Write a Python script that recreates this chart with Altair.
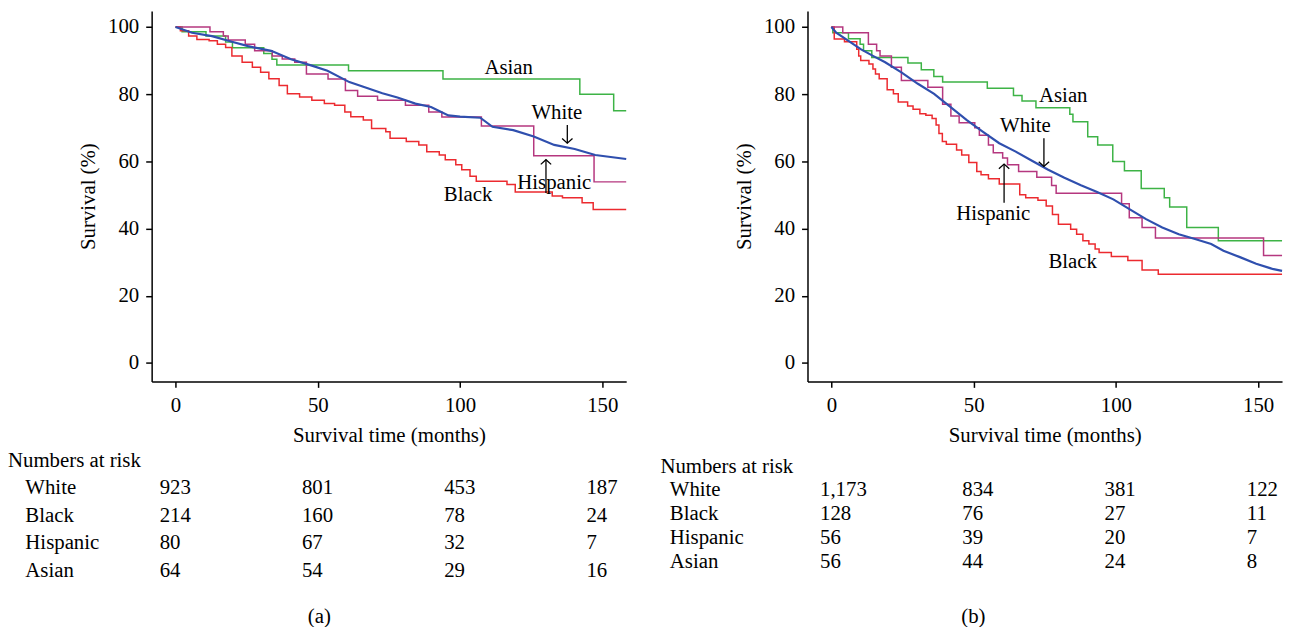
import altair as alt
import pandas as pd

FONT = "Liberation Serif"
FS = 21

GROUPS = ["White", "Black", "Hispanic", "Asian"]
COLORS = {"White": "#2f4fae", "Black": "#ec2a2f", "Hispanic": "#b5377f", "Asian": "#3db346"}

# ---------------- Panel (a) ----------------
a_white_t = [0, 5.8, 12.8, 19.8, 25.5, 33.6, 40.6, 47.9, 53.4, 61.1, 66.0, 72.7, 78.0, 84.3, 89.8, 95.9,
             100.0, 107.1, 111.4, 118.7, 125.9, 133.1, 140.3, 147.5, 158.4]
a_white_s = [100, 98.3, 97.3, 95.6, 94.3, 92.9, 90.4, 88.5, 87.0, 83.6, 82.2, 80.3, 79.0, 77.2, 76.2, 73.7,
             73.3, 73.0, 70.3, 69.3, 67.4, 64.9, 63.7, 61.9, 60.7]
a_black_t = [0, 1.7, 4.6, 7.5, 11.8, 14.7, 17.6, 19.8, 23.4, 27.0, 29.9, 32.8, 36.4, 39.3, 43.6, 47.9, 52.3,
             55.9, 59.5, 61.6, 66.0, 68.9, 73.9, 75.4, 81.1, 85.5, 88.3, 92.7, 94.8, 98.5, 100.6, 103.5,
             105.7, 116.5, 119.4, 132.4, 136.0, 142.9, 146.8, 158.4]
a_black_s = [100, 98.9, 97.3, 96.3, 95.9, 94.9, 93.9, 91.4, 89.5, 88.0, 86.5, 84.6, 82.6, 80.1, 79.2, 78.2, 77.2,
             76.7, 74.7, 73.3, 72.3, 69.8, 68.8, 66.9, 65.9, 64.9, 62.9, 61.9, 60.5, 59.0, 57.5, 55.6,
             54.1, 53.1, 50.9, 49.7, 49.2, 47.7, 45.7, 45.7]
a_hisp_t = [0, 12.1, 16.8, 18.5, 24.5, 27.8, 34.0, 37.5, 41.9, 46.0, 53.6, 59.7, 64.0, 71.0, 80.8, 89.0,
            93.6, 107.5, 125.9, 147.1, 158.4]
a_hisp_s = [100, 98.6, 97.3, 96.1, 94.9, 92.9, 91.4, 90.5, 89.5, 86.0, 84.5, 81.1, 79.4, 78.2, 76.7, 74.7,
            73.2, 70.5, 61.7, 53.9, 53.9]
a_asian_t = [0, 2.3, 10.7, 17.6, 20.0, 31.0, 33.9, 35.6, 60.8, 94.0, 142.1, 154.0, 158.4]
a_asian_s = [100, 98.6, 97.3, 95.5, 93.8, 92.1, 90.4, 88.7, 87.0, 84.5, 80.0, 75.1, 75.1]

a_lab_text = ["Asian", "White", "Hispanic", "Black"]
a_lab_t = [117.1, 134.0, 133.1, 102.8]
a_lab_s = [87.8, 74.5, 53.6, 50.0]
a_arrow_dir = ["down", "up"]
a_arrow_t = [137.7, 130.2]
a_arrow_tail = [70.8, 50.6]
a_arrow_head = [65.4, 60.5]

a_risk_times = [0, 50, 100, 150]
a_risk_white = [923, 801, 453, 187]
a_risk_black = [214, 160, 78, 24]
a_risk_hisp = [80, 67, 32, 7]
a_risk_asian = [64, 54, 29, 16]

# ---------------- Panel (b) ----------------
b_white_t = [0, 1.7, 6.0, 10.3, 14.6, 18.9, 24.6, 30.4, 36.1, 41.8, 47.6, 53.3, 59.0, 64.8, 70.5, 76.2,
             81.9, 87.7, 93.4, 99.1, 104.9, 110.6, 116.3, 122.1, 127.8, 133.5, 137.8, 143.6, 149.3, 155.0, 158.4]
b_white_s = [100, 98.3, 95.9, 93.4, 91.4, 89.5, 86.5, 83.1, 80.1, 76.2, 72.3, 68.8, 65.4, 62.9, 60.2, 57.5,
             55.1, 52.9, 50.9, 48.7, 45.7, 42.8, 40.3, 38.3, 36.9, 35.4, 33.4, 31.5, 29.5, 28.0, 27.4]
b_black_t = [0, 1.0, 4.6, 8.9, 9.6, 10.3, 13.2, 14.6, 15.5, 16.8, 19.6, 21.8, 23.5, 26.8, 28.7, 31.1, 33.2,
             35.4, 36.8, 37.8, 39.0, 40.4, 44.0, 45.8, 48.3, 51.1, 52.6, 55.2, 59.0, 66.2, 68.3, 72.6, 75.5,
             77.7, 79.8, 84.1, 86.2, 88.4, 90.5, 92.7, 94.1, 98.4, 104.2, 109.2, 114.9, 158.4]
b_black_s = [100, 96.4, 95.6, 93.4, 91.4, 90.0, 89.0, 87.5, 86.0, 84.6, 81.3, 80.1, 77.7, 76.5, 75.5, 74.2, 73.7,
             72.8, 70.8, 68.3, 65.9, 65.1, 63.4, 61.9, 59.7, 57.0, 56.0, 54.8, 53.3, 50.1, 49.2, 48.4, 46.7,
             44.2, 41.3, 39.8, 38.3, 36.4, 35.4, 33.9, 32.9, 31.7, 30.5, 27.7, 26.4, 26.4]
b_hisp_t = [0, 4.0, 13.0, 15.9, 17.1, 21.1, 24.6, 33.9, 39.1, 42.0, 44.9, 50.4, 52.0, 55.2, 56.9, 60.2, 61.9,
            65.8, 72.2, 77.4, 79.0, 102.0, 104.7, 109.2, 113.9, 151.9, 158.4]
b_hisp_s = [100, 98.3, 94.9, 92.9, 91.4, 88.0, 84.1, 82.1, 77.0, 73.5, 71.5, 70.0, 67.8, 64.9, 62.6, 61.0, 59.0,
            57.0, 55.3, 52.8, 50.5, 47.4, 43.2, 40.3, 37.2, 32.0, 32.0]
b_asian_t = [0, 0.5, 6.0, 10.1, 11.3, 14.2, 26.9, 31.6, 36.0, 39.1, 54.8, 64.0, 67.0, 71.9, 83.8, 84.9, 90.1,
             93.6, 98.9, 103.0, 108.9, 117.0, 118.9, 124.9, 136.0, 158.4]
b_asian_s = [100, 98.3, 96.5, 94.9, 92.9, 90.9, 89.3, 87.3, 85.3, 83.6, 81.8, 79.6, 78.0, 76.0, 74.0, 71.8, 67.3,
             64.9, 60.0, 57.2, 51.9, 49.2, 46.4, 40.3, 36.4, 36.4]

b_lab_text = ["Asian", "White", "Hispanic", "Black"]
b_lab_t = [81.5, 68.2, 56.9, 84.8]
b_lab_s = [79.5, 70.4, 44.4, 29.9]
b_arrow_dir = ["down", "up"]
b_arrow_t = [74.7, 60.7]
b_arrow_tail = [66.9, 47.7]
b_arrow_head = [58.5, 59.2]

b_risk_times = [0, 50, 100, 150]
b_risk_white = [1173, 834, 381, 122]
b_risk_black = [128, 76, 27, 11]
b_risk_hisp = [56, 39, 20, 7]
b_risk_asian = [56, 44, 24, 8]

XDOM = [-8.4, 158.4]
YDOM = [-5.5, 104.8]
PLOT_W = 479
PLOT_H = 374
X_TICKS = [0, 50, 100, 150]
Y_TICKS = [0, 20, 40, 60, 80, 100]
HEADER = "Numbers at risk"
ROWS = [HEADER] + GROUPS

DOWN_HEAD = "M-1,-0.9L0,0L1,-0.9"
UP_HEAD = "M-1,0.9L0,0L1,0.9"


def make_panel(white, steps, labels, arrows, risk, caption, table_h, table_dx,
               label_x, header_x, vspace, cap_offset):
    xs = alt.Scale(domain=XDOM, nice=False, zero=False)
    ys = alt.Scale(domain=YDOM, nice=False, zero=False)
    X = alt.X("t:Q", scale=xs, axis=alt.Axis(values=X_TICKS, title="Survival time (months)"))
    Y = alt.Y("s:Q", scale=ys, axis=alt.Axis(values=Y_TICKS, title="Survival (%)"))
    cscale = alt.Scale(domain=GROUPS, range=[COLORS[g] for g in GROUPS])

    rows = []
    for g, (tt, ss) in steps.items():
        for t, s in zip(tt, ss):
            rows.append({"group": g, "t": t, "s": s})
    step_df = pd.DataFrame(rows)
    white_df = pd.DataFrame({"group": "White", "t": white[0], "s": white[1]})

    step_layer = alt.Chart(step_df).mark_line(interpolate="step-after", strokeWidth=1.5).encode(
        x=X, y=Y, color=alt.Color("group:N", scale=cscale, legend=None), detail="group:N")
    white_layer = alt.Chart(white_df).mark_line(strokeWidth=2.2).encode(
        x=X, y=Y, color=alt.Color("group:N", scale=cscale, legend=None))

    lab_df = pd.DataFrame({"label": labels[0], "t": labels[1], "s": labels[2]})
    lab_layer = alt.Chart(lab_df).mark_text(font=FONT, fontSize=FS, color="black",
                                            align="center", baseline="middle").encode(
        x=X, y=Y, text="label:N")

    arr_df = pd.DataFrame({"dir": arrows[0], "t": arrows[1], "s": arrows[2], "s2": arrows[3]})
    shaft = alt.Chart(arr_df).mark_rule(color="black", strokeWidth=1.3).encode(
        x=X, y=alt.Y("s:Q", scale=ys, axis=alt.Axis(values=Y_TICKS, title="Survival (%)")), y2="s2:Q")
    head_df = pd.DataFrame({"t": arrows[1], "s": arrows[3], "dir": arrows[0]})
    heads = []
    for d, shape in (("down", DOWN_HEAD), ("up", UP_HEAD)):
        heads.append(alt.Chart(head_df[head_df["dir"] == d]).mark_point(
            shape=shape, filled=False, color="black", strokeWidth=1.3, size=110, opacity=1).encode(x=X, y=Y))

    plot = alt.layer(step_layer, white_layer, lab_layer, shaft, *heads).properties(
        width=PLOT_W, height=PLOT_H)

    # numbers-at-risk table
    trows = []
    for g, vals in zip(GROUPS, risk[1:]):
        for t, n in zip(risk[0], vals):
            trows.append({"group": g, "t": t, "n": n})
    tdf = pd.DataFrame(trows)
    ty = alt.Y("group:N", scale=alt.Scale(type="point", domain=ROWS, padding=0), axis=None)
    tx = alt.X("t:Q", scale=xs, axis=None)
    nums = alt.Chart(tdf).mark_text(font=FONT, fontSize=FS, color="black", align="left",
                                    baseline="middle", dx=table_dx).encode(
        x=tx, y=ty, text=alt.Text("n:Q", format=","))
    glab = alt.Chart(pd.DataFrame({"group": GROUPS})).mark_text(
        font=FONT, fontSize=FS, color="black", align="left", baseline="middle").encode(
        x=alt.value(label_x), y=ty, text="group:N")
    hdr = alt.Chart(pd.DataFrame({"group": [HEADER]})).mark_text(
        font=FONT, fontSize=FS, color="black", align="left", baseline="middle").encode(
        x=alt.value(header_x), y=ty, text="group:N")
    table = alt.layer(nums, glab, hdr).properties(width=PLOT_W, height=table_h)

    return alt.vconcat(plot, table, spacing=vspace,
                       title=alt.TitleParams(caption, orient="bottom", anchor="middle", frame="bounds",
                                             font=FONT, fontSize=FS, fontWeight="normal",
                                             color="black", offset=cap_offset))


panel_a = make_panel(
    (a_white_t, a_white_s),
    {"Asian": (a_asian_t, a_asian_s), "Black": (a_black_t, a_black_s), "Hispanic": (a_hisp_t, a_hisp_s)},
    (a_lab_text, a_lab_t, a_lab_s),
    (a_arrow_dir, a_arrow_t, a_arrow_tail, a_arrow_head),
    (a_risk_times, a_risk_white, a_risk_black, a_risk_hisp, a_risk_asian),
    "(a)", table_h=111, table_dx=-16, label_x=-127.5, header_x=-145, vspace=4, cap_offset=26)

panel_b = make_panel(
    (b_white_t, b_white_s),
    {"Asian": (b_asian_t, b_asian_s), "Black": (b_black_t, b_black_s), "Hispanic": (b_hisp_t, b_hisp_s)},
    (b_lab_text, b_lab_t, b_lab_s),
    (b_arrow_dir, b_arrow_t, b_arrow_tail, b_arrow_head),
    (b_risk_times, b_risk_white, b_risk_black, b_risk_hisp, b_risk_asian),
    "(b)", table_h=96, table_dx=-11.5, label_x=-139, header_x=-148.5, vspace=10, cap_offset=35)

chart = alt.hconcat(panel_a, panel_b, spacing=29).properties(
    padding={"left": 0, "top": 0, "right": 0, "bottom": 0}
).configure_view(stroke=None).configure_axis(
    labelFont=FONT, titleFont=FONT, labelFontSize=FS, titleFontSize=FS, titleFontWeight="normal",
    labelColor="black", titleColor="black", domainColor="black", tickColor="black",
    domainWidth=1.5, tickWidth=1.5, tickSize=6, labelPadding=7, grid=False
).configure_axisX(titlePadding=10).configure_axisY(titlePadding=9)

chart.save("out.html", embed_options={"renderer": "svg", "actions": False})
